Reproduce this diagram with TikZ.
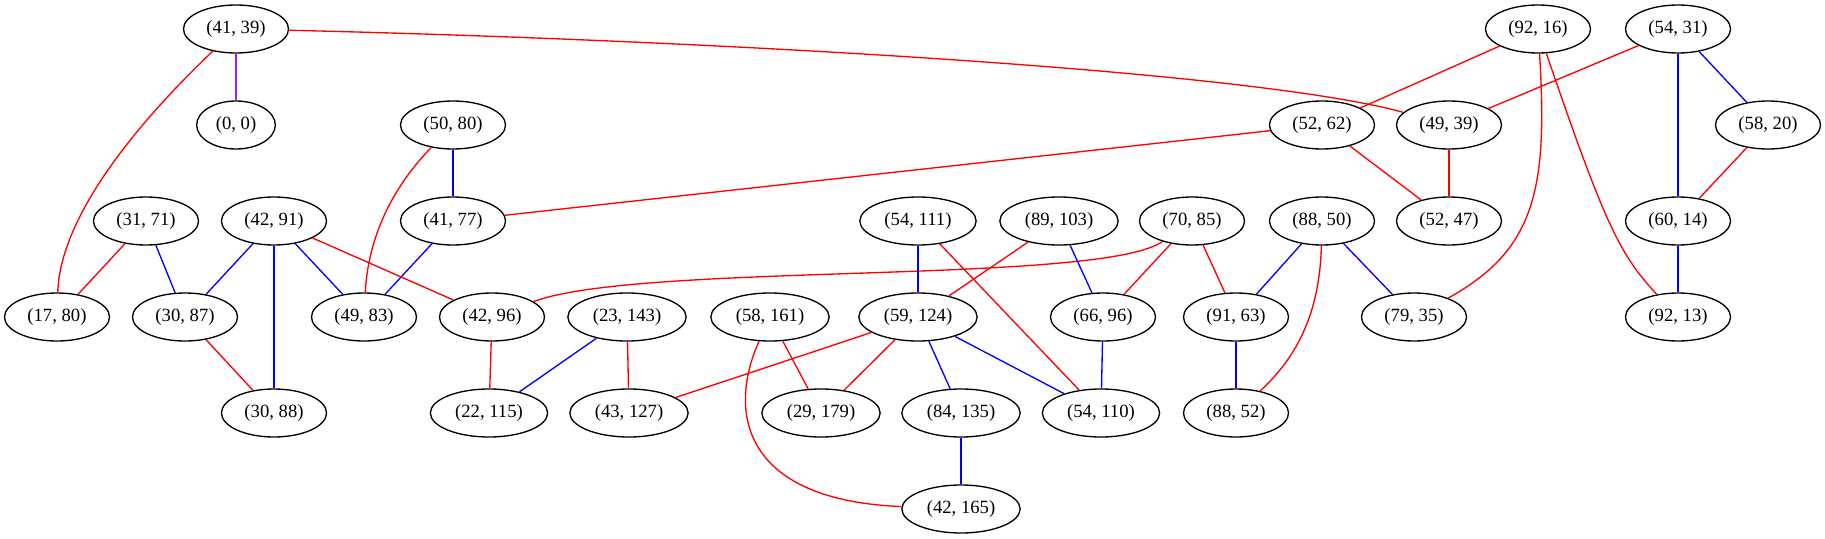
\documentclass[tikz,border=0pt]{standalone}
\usepackage{fontspec}
\setmainfont{Liberation Serif}
\usetikzlibrary{shapes.geometric}
\definecolor{violetedge}{HTML}{A020F0}

\begin{document}
\begin{tikzpicture}[x=0.75pt,y=-0.75pt,
         vertex/.style={draw,ellipse,line width=1pt,minimum width=54pt,minimum height=36pt,inner xsep=5.7pt,inner ysep=0pt,font=\fontsize{14}{16}\selectfont},
         redge/.style={draw=red,line width=1pt},
         bedge/.style={draw=blue,line width=1pt}]
         \useasboundingbox (0,0) rectangle (1825,539);
         \node[vertex] (n4139) at (236,29) {(41, 39)};
         \node[vertex] (n00) at (236,125) {(0, 0)};
         \node[vertex] (n5080) at (453,125) {(50, 80)};
         \node[vertex] (n3171) at (146,221) {(31, 71)};
         \node[vertex] (n4291) at (274,221) {(42, 91)};
         \node[vertex] (n4177) at (453,221) {(41, 77)};
         \node[vertex] (n1780) at (57,317) {(17, 80)};
         \node[vertex] (n3087) at (185,317) {(30, 87)};
         \node[vertex] (n4983) at (364,317) {(49, 83)};
         \node[vertex] (n4296) at (492,317) {(42, 96)};
         \node[vertex] (n3088) at (274,413) {(30, 88)};
         \node[vertex] (n22115) at (489,413) {(22, 115)};
         \node[vertex] (n23143) at (627,317) {(23, 143)};
         \node[vertex] (n43127) at (629,413) {(43, 127)};
         \node[vertex] (n54111) at (918,221) {(54, 111)};
         \node[vertex] (n89103) at (1059,221) {(89, 103)};
         \node[vertex] (n7085) at (1192,221) {(70, 85)};
         \node[vertex] (n58161) at (770,317) {(58, 161)};
         \node[vertex] (n59124) at (918,317) {(59, 124)};
         \node[vertex] (n6696) at (1103,317) {(66, 96)};
         \node[vertex] (n29179) at (821,413) {(29, 179)};
         \node[vertex] (n84135) at (961,413) {(84, 135)};
         \node[vertex] (n54110) at (1101,413) {(54, 110)};
         \node[vertex] (n42165) at (961,509) {(42, 165)};
         \node[vertex] (n9216) at (1538,29) {(92, 16)};
         \node[vertex] (n5431) at (1678,29) {(54, 31)};
         \node[vertex] (n5262) at (1322,125) {(52, 62)};
         \node[vertex] (n4939) at (1449,125) {(49, 39)};
         \node[vertex] (n5820) at (1768,125) {(58, 20)};
         \node[vertex] (n8850) at (1322,221) {(88, 50)};
         \node[vertex] (n5247) at (1449,221) {(52, 47)};
         \node[vertex] (n6014) at (1678,221) {(60, 14)};
         \node[vertex] (n9163) at (1236,317) {(91, 63)};
         \node[vertex] (n7935) at (1414,317) {(79, 35)};
         \node[vertex] (n9213) at (1678,317) {(92, 13)};
         \node[vertex] (n8852) at (1236,413) {(88, 52)};

         \draw[draw=violetedge,line width=1pt] (n4139) -- (n00);
         \draw[redge] (n4139) .. controls (130,130) and (60,220) .. (n1780);
         \draw[redge] (n4139) .. controls (700,40) and (1250,70) .. (n4939);
         \draw[redge] (n9216) -- (n5262);
         \draw[redge] (n9216) .. controls (1548,190) and (1535,250) .. (n7935);
         \draw[redge] (n9216) .. controls (1605,225) and (1620,255) .. (n9213);
         \draw[redge] (n5431) -- (n4939);
         \draw[bedge] (n5431) -- (n6014);
         \draw[bedge] (n5431) -- (n5820);
         \draw[redge] (n5820) -- (n6014);
         \draw[bedge] (n6014) -- (n9213);
         \draw[redge] (n5262) -- (n4177);
         \draw[redge] (n5262) -- (n5247);
         \draw[redge] (n4939) -- (n5247);
         \draw[bedge] (n5080) -- (n4177);
         \draw[redge] (n5080) .. controls (390,190) and (368,240) .. (n4983);
         \draw[bedge] (n4177) -- (n4983);
         \draw[redge] (n3171) -- (n1780);
         \draw[bedge] (n3171) -- (n3087);
         \draw[bedge] (n4291) -- (n3087);
         \draw[bedge] (n4291) -- (n3088);
         \draw[bedge] (n4291) -- (n4983);
         \draw[redge] (n4291) -- (n4296);
         \draw[redge] (n3087) -- (n3088);
         \draw[redge] (n4296) -- (n22115);
         \draw[bedge] (n23143) -- (n22115);
         \draw[redge] (n23143) -- (n43127);
         \draw[redge] (n7085) .. controls (1100,285) and (640,262) .. (n4296);
         \draw[redge] (n7085) -- (n6696);
         \draw[redge] (n7085) -- (n9163);
         \draw[redge] (n89103) -- (n59124);
         \draw[bedge] (n89103) -- (n6696);
         \draw[bedge] (n54111) -- (n59124);
         \draw[redge] (n54111) -- (n54110);
         \draw[bedge] (n8850) -- (n9163);
         \draw[bedge] (n8850) -- (n7935);
         \draw[redge] (n8850) .. controls (1320,300) and (1305,350) .. (n8852);
         \draw[bedge] (n9163) -- (n8852);
         \draw[bedge] (n6696) -- (n54110);
         \draw[redge] (n59124) -- (n43127);
         \draw[redge] (n59124) -- (n29179);
         \draw[bedge] (n59124) -- (n84135);
         \draw[bedge] (n59124) -- (n54110);
         \draw[redge] (n58161) -- (n29179);
         \draw[redge] (n58161) .. controls (728,410) and (740,500) .. (n42165);
         \draw[bedge] (n84135) -- (n42165);
      \end{tikzpicture}
\end{document}
